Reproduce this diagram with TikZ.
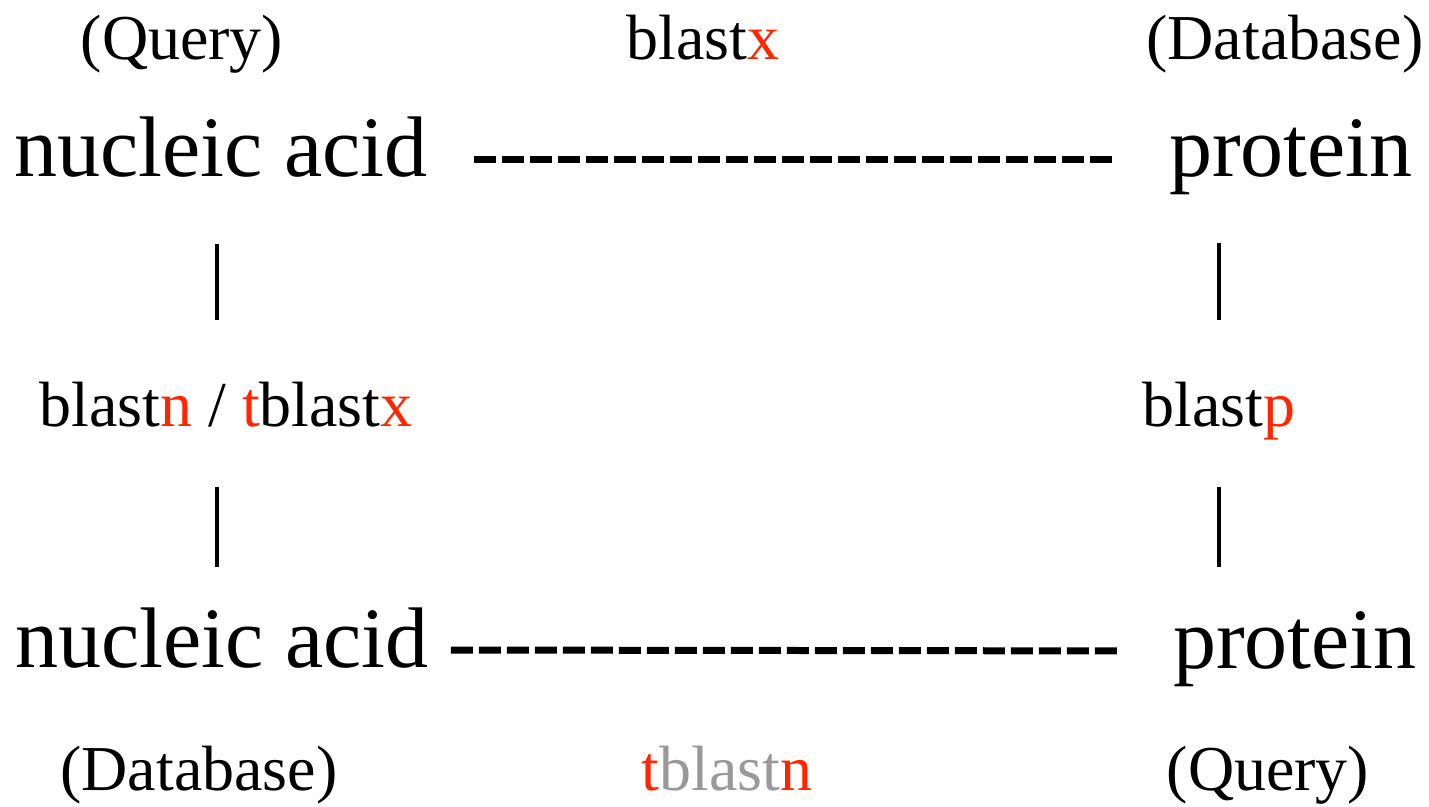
\documentclass[tikz,border=0pt]{standalone}
\usepackage{fontspec}
\setmainfont{Liberation Serif}
\usepackage{tikz}
\usepackage{xcolor}

\definecolor{hitred}{RGB}{255,38,0}
\definecolor{tgray}{RGB}{153,153,153}

\begin{document}
\begin{tikzpicture}[x=0.5pt,y=-0.5pt,
    lab/.style={inner sep=0pt,anchor=base,font=\fontsize{32}{32}\selectfont},
    nuc/.style={inner sep=0pt,anchor=base,font=\fontsize{43}{43}\selectfont},
    prot/.style={inner sep=0pt,anchor=base,font=\fontsize{43}{43}\selectfont},
    dashline/.style={line width=3.5pt,dash pattern=on 11pt off 3pt},
    bar/.style={line width=2pt}]
    \useasboundingbox (0,0) rectangle (1429,807);

    % top row
    \node[lab] (qtop) at (182,60) {(Query)};
    \node[lab] (bx) at (703,60) {blast\textcolor{hitred}{x}};
    \node[lab] (dbtop) at (1285,60) {(Database)};
    \node[nuc] (na1) at (221,177) {nucleic acid};
    \node[prot] (pr1) at (1291,177) {protein};

    % middle
    \node[lab] (bn) at (226,427) {blast\textcolor{hitred}{n} / \textcolor{hitred}{t}blast\textcolor{hitred}{x}};
    \node[lab] (bp) at (1219,427) {blast\textcolor{hitred}{p}};

    % bottom row
    \node[nuc] (na2) at (222,667) {nucleic acid};
    \node[prot] (pr2) at (1295,668) {protein};
    \node[lab] (dbbot) at (199,790) {(Database)};
    \node[lab] (tbn) at (727,790) {\textcolor{hitred}{t}\textcolor{tgray}{blast}\textcolor{hitred}{n}};
    \node[lab] (qbot) at (1268,790) {(Query)};

    \draw[dashline,shorten <=23pt,shorten >=26pt] ([yshift=8.5pt]na1.base east) -- ([yshift=8.5pt]pr1.base west);
    \draw[dashline,shorten <=11pt,shorten >=27.5pt] ([yshift=8.5pt]na2.base east) -- ([yshift=8.5pt]pr2.base west);

    \draw[bar,shorten <=33pt,shorten >=31pt] ([xshift=-4.5pt]na1.south -| bn.north) -- ([xshift=-4.5pt]bn.north);
    \draw[bar,shorten <=29.5pt,shorten >=20pt] ([xshift=-4.5pt]bn.south) -- ([xshift=-4.5pt]na2.north -| bn.south);
    \draw[bar,shorten <=23.5pt,shorten >=31pt] (pr1.south -| bp.north) -- (bp.north);
    \draw[bar,shorten <=23pt,shorten >=22pt] (bp.south) -- (pr2.north -| bp.south);
\end{tikzpicture}
\end{document}
